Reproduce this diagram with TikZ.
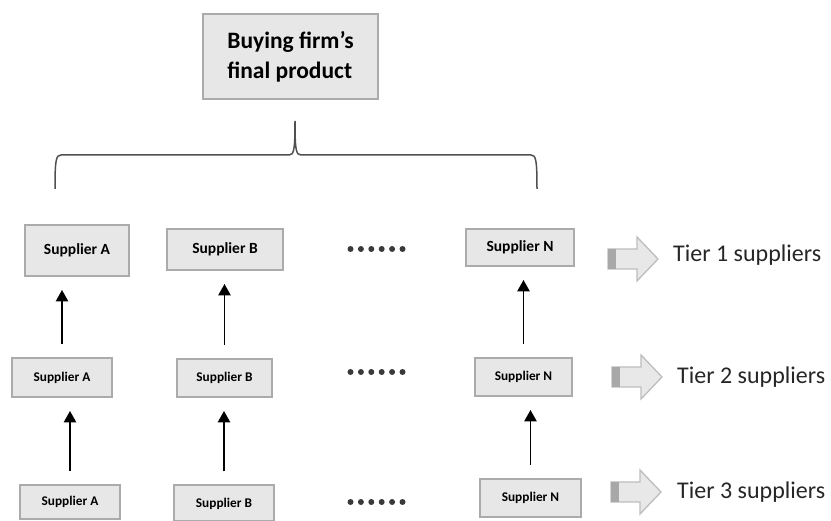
\documentclass[tikz,border=0pt]{standalone}
\usepackage{fontspec}
\setmainfont{Carlito}
\usetikzlibrary{calc, positioning, arrows.meta}
\usepackage{xcolor}
\definecolor{boxfill}{HTML}{E7E7E7}
\definecolor{boxline}{HTML}{ABABAB}
\definecolor{bracecol}{HTML}{505050}
\definecolor{dotcol}{HTML}{3A3A3A}
\definecolor{arrfill}{HTML}{E8E8E8}
\definecolor{arrline}{HTML}{BDBDBD}
\definecolor{arrdark}{HTML}{A8A8A8}
\definecolor{tiercol}{HTML}{262626}

\tikzset{
	supbox/.style={draw=boxline, fill=boxfill, line width=2pt, inner sep=0pt, font=\bfseries},
	bigsup/.style={supbox, font=\fontsize{15.5}{18}\selectfont\bfseries},
	smallsup/.style={supbox, font=\fontsize{13.3}{16}\selectfont\bfseries},
	uparrow/.style={line width=1.5pt, -{Triangle[width=12.5pt, length=11.5pt]}},
	tiertext/.style={anchor=west, text=tiercol, inner sep=0pt, font=\fontsize{24}{28}\selectfont},
}

\begin{document}
\begin{tikzpicture}[x=1pt, y=-1pt]
	\useasboundingbox (0, 0) rectangle (831, 521);

	% final product
	\node[supbox, minimum width=175, minimum height=85, align=left,
		font=\fontsize{23.5}{30}\selectfont\bfseries] (final) at (290.5, 56.5) {Buying firm’s\\final product};

	% brace
	\draw[bracecol, line width=1.5pt] (55, 189) .. controls (55, 160) and (56, 155) .. (61, 155) -- (289, 155)
		.. controls (294, 155) and (295, 150) .. (295, 121)
		.. controls (295, 150) and (296, 155) .. (301, 155) -- (531, 155)
		.. controls (536, 155) and (537, 160) .. (537, 189);

	% tier 1
	\node[bigsup, minimum width=104, minimum height=51] (t1a) at (77, 250.5) {Supplier A};
	\node[bigsup, minimum width=116, minimum height=41] (t1b) at (225, 249.5) {Supplier B};
	\node[bigsup, minimum width=108, minimum height=37] (t1n) at (520, 247.5) {Supplier N};

	% tier 2
	\node[smallsup, minimum width=100, minimum height=39] (t2a) at (62, 377.5) {Supplier A};
	\node[smallsup, minimum width=95, minimum height=38] (t2b) at (224.5, 378) {Supplier B};
	\node[smallsup, minimum width=97, minimum height=38] (t2n) at (523.5, 377) {Supplier N};

	% tier 3
	\node[smallsup, minimum width=100, minimum height=34] (t3a) at (70, 502) {Supplier A};
	\node[smallsup, minimum width=100, minimum height=36] (t3b) at (224, 503.5) {Supplier B};
	\node[smallsup, minimum width=101, minimum height=38] (t3n) at (530.5, 498) {Supplier N};

	\foreach \lo/\up in {t2a/t1a, t2b/t1b, t2n/t1n, t3a/t2a, t3b/t2b, t3n/t2n} {
			\draw[uparrow, shorten <=13pt, shorten >=13pt] (\lo.north) -- (\lo.north |- \up.south);
		}

	% dots
	\foreach \y in {249, 372, 502} {
			\foreach \i in {0, ..., 5} {
					\fill[dotcol] (350.5 + \i*10.4, \y) circle (3pt);
				}
		}

	% tier arrows
	\foreach \x/\y in {608/259, 612/377, 611/492} {
			\coordinate (x) at (\x, \y);
			\draw[arrline, fill=arrfill, line width=1.3pt] ($(x) + (0, -10)$) -- ++ (29, 0) -- ++ (0, -12)
				-- ++ (21, 22) -- ++ (-21, 22) -- ++ (0, -12) -- ++ (-29, 0) -- cycle;
			\fill[arrdark] ($(x) + (0, -10)$) rectangle ++ (8, 20);
		}

	\node[tiertext] (tier1) at (673, 255) {Tier 1 suppliers};
	\node[tiertext] (tier2) at (677, 377) {Tier 2 suppliers};
	\node[tiertext] (tier3) at (677, 492) {Tier 3 suppliers};
\end{tikzpicture}
\end{document}
